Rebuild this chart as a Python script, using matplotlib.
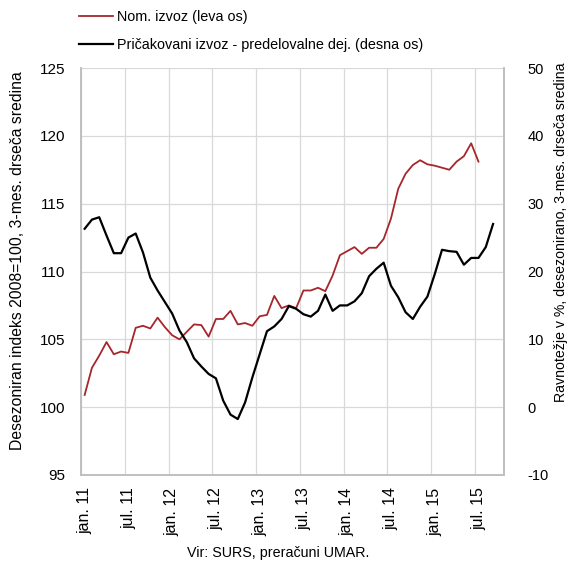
import numpy as np
import matplotlib
matplotlib.use('Agg')
import matplotlib.pyplot as plt

plt.rcParams['font.family'] = ['Liberation Sans', 'DejaVu Sans']
plt.rcParams['font.size'] = 10
plt.rcParams['axes.unicode_minus'] = False

# jan 2011 .. okt 2015, ena kategorija na mesec
n_months = 58
tick_labels = ['jan. 11', 'jul. 11', 'jan. 12', 'jul. 12', 'jan. 13',
               'jul. 13', 'jan. 14', 'jul. 14', 'jan. 15', 'jul. 15']

# Nom. izvoz (leva os), jan 11 - jul 15
nom_izvoz = [100.9, 102.9, 103.8, 104.8, 103.9, 104.1, 104.0, 105.85, 106.0, 105.8,
             106.6, 105.9, 105.3, 105.0, 105.55, 106.1, 106.05, 105.2, 106.5, 106.5,
             107.1, 106.1, 106.2, 106.0, 106.7, 106.8, 108.2, 107.3, 107.5, 107.3,
             108.6, 108.6, 108.8, 108.55, 109.7, 111.2, 111.5, 111.8, 111.3, 111.75,
             111.75, 112.4, 113.9, 116.1, 117.2, 117.85, 118.2, 117.9, 117.8, 117.65,
             117.5, 118.1, 118.5, 119.45, 118.1]

# Pričakovani izvoz (desna os), jan 11 - sep 15
pric_izvoz = [26.3, 27.65, 28.0, 25.3, 22.7, 22.7, 25.0, 25.6, 22.8, 19.1,
              17.2, 15.5, 13.8, 11.3, 9.6, 7.2, 6.0, 4.9, 4.25, 0.96,
              -1.1, -1.75, 0.7, 4.4, 7.8, 11.2, 11.9, 13.0, 14.9, 14.5,
              13.7, 13.35, 14.2, 16.6, 14.2, 15.0, 15.0, 15.6, 16.8, 19.3,
              20.4, 21.3, 17.9, 16.2, 14.0, 13.0, 14.8, 16.3, 19.6, 23.2,
              23.0, 22.9, 21.0, 22.0, 22.0, 23.6, 27.0]

red = '#a6262c'
grid_c = '#d9d9d9'
spine_c = '#bfbfbf'

fig = plt.figure(figsize=(5.68, 5.61), dpi=100)
ax = fig.add_axes([81/568, 1-475/561, (504-81)/568, (475-68)/561])
ax2 = ax.twinx()

x1 = np.arange(len(nom_izvoz))
x2 = np.arange(len(pric_izvoz))
l1, = ax.plot(x1, nom_izvoz, color=red, lw=1.3, label='Nom. izvoz (leva os)')
l2, = ax2.plot(x2, pric_izvoz, color='black', lw=1.6,
               label='Pričakovani izvoz - predelovalne dej. (desna os)')

ax.set_xlim(-0.5, n_months - 0.5)
ax.set_ylim(95, 125)
ax.set_yticks(np.arange(95, 126, 5))
ax2.set_ylim(-10, 50)
ax2.set_yticks(np.arange(-10, 51, 10))

ax.set_xticks(np.arange(0, 55, 6))
ax.set_xticklabels(tick_labels, rotation=90, fontsize=11.5)
ax.set_xticks(np.arange(-0.5, n_months, 6), minor=True)
ax.tick_params(axis='x', which='both', length=0, pad=9)
ax.tick_params(axis='y', length=0, pad=11, labelsize=11)
ax2.tick_params(axis='y', length=0, pad=17, labelsize=10.5)

ax.grid(True, axis='y', color=grid_c, lw=0.9)
ax.grid(True, axis='x', which='minor', color=grid_c, lw=0.9)
ax.set_axisbelow(True)

for a in (ax, ax2):
    a.spines['top'].set_visible(False)
    for s in ('left', 'right', 'bottom'):
        a.spines[s].set_color(spine_c)
        a.spines[s].set_linewidth(1.2)

fig.text(18/568, 1-261/561, 'Desezoniran indeks 2008=100, 3-mes. drseča sredina',
         rotation=90, ha='center', va='center', fontsize=11.3)
fig.text(561/568, 1-232/561, 'Ravnotežje v %, desezonirano, 3-mes. drseča sredina',
         rotation=90, ha='center', va='center', fontsize=10.2)

fig.legend(handles=[l1, l2], loc='upper left', bbox_to_anchor=(0.117, 1.005),
           frameon=False, handlelength=2.3, handletextpad=0.3, labelspacing=0.95,
           fontsize=10.4)

fig.text(278/568, 1-553/561, 'Vir: SURS, preračuni UMAR.', ha='center', va='center',
         fontsize=10.3)

fig.savefig('out.png', dpi=100)
